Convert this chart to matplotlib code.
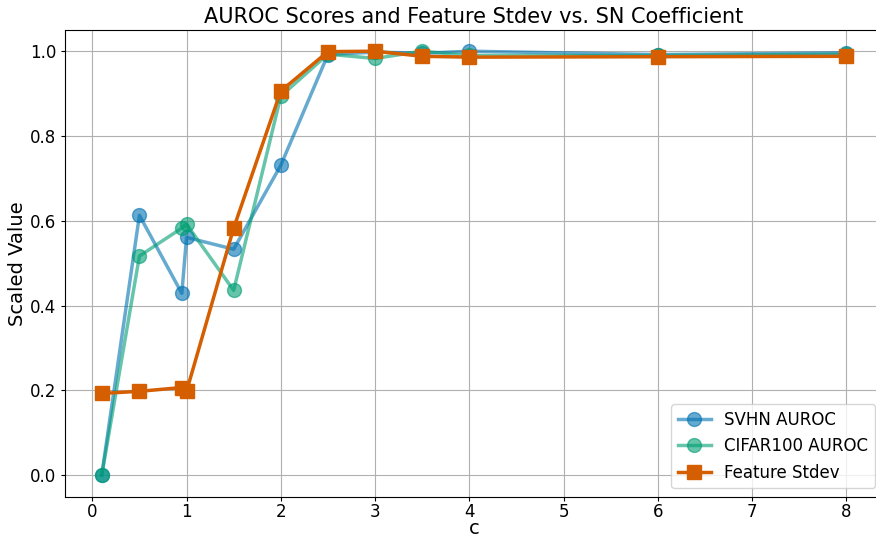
import matplotlib
matplotlib.use("Agg")
import matplotlib.pyplot as plt

c_values = [0.1, 0.5, 0.95, 1.0, 1.5, 2.0, 2.5, 3.0, 3.5, 4.0, 6.0, 8.0]
svhn_auroc = [0.0, 0.613, 0.429, 0.561, 0.533, 0.731, 0.992, 0.998, 0.995, 1.0, 0.992, 0.996]
cifar100_auroc = [0.0, 0.517, 0.583, 0.592, 0.436, 0.894, 0.993, 0.983, 1.0, 0.990, 0.990, 0.993]
feature_stdev = [0.193, 0.198, 0.207, 0.198, 0.583, 0.906, 0.999, 1.0, 0.988, 0.986, 0.987, 0.988]

W, H = 876, 539
fig = plt.figure(figsize=(W / 100, H / 100), dpi=100)
left, right, top, bottom = 64.5, 883.5, 30, 496.5
ax = fig.add_axes([left / W, (H - bottom) / H, (right - left) / W, (bottom - top) / H])

ax.plot(c_values, svhn_auroc, marker='o', color='#0072B2', alpha=0.6, lw=2.5, ms=10, label='SVHN AUROC')
ax.plot(c_values, cifar100_auroc, marker='o', color='#009E73', alpha=0.6, lw=2.5, ms=10, label='CIFAR100 AUROC')
ax.plot(c_values, feature_stdev, marker='s', color='#D55E00', lw=2.5, ms=10, label='Feature Stdev')

ax.set_title('AUROC Scores and Feature Stdev vs. SN Coefficient', fontsize=15, pad=5)
ax.set_xlabel('c', fontsize=14, labelpad=-2)
ax.set_ylabel('Scaled Value', fontsize=14, labelpad=2)
ax.tick_params(axis='x', labelsize=12, length=3, pad=2)
ax.tick_params(axis='y', labelsize=12, length=3, pad=3)
ax.grid(True, color='#b0b0b0', lw=0.8)
ax.legend(loc='lower right', fontsize=12)
fig.savefig('out.png', dpi=100)
